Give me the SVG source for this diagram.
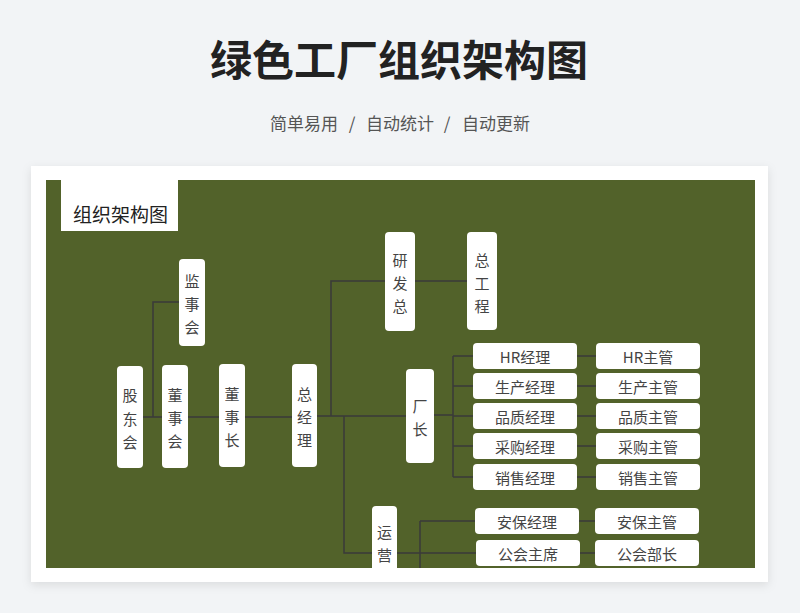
<svg xmlns="http://www.w3.org/2000/svg" width="800" height="613" viewBox="0 0 800 613">
<defs>
<style>
.title{font-family:"Noto Sans CJK SC","Noto Sans",sans-serif;font-weight:bold;font-size:42px;fill:#222;text-anchor:middle}
.sub{font-family:"Noto Sans CJK SC","Noto Sans",sans-serif;font-size:17px;fill:#555;text-anchor:middle}
.box{fill:#fff;rx:4;ry:4}
.t{font-family:"Noto Sans CJK SC","Noto Sans",sans-serif;font-size:15px;fill:#444;text-anchor:middle;dominant-baseline:central}
.lbl{font-family:"Noto Sans CJK SC","Noto Sans",sans-serif;font-size:19px;fill:#222;dominant-baseline:central}
.ln{stroke:#3a3a3a;stroke-width:1.5;fill:none}
</style>
<filter id="sh" x="-5%" y="-5%" width="110%" height="115%">
<feDropShadow dx="0" dy="3" stdDeviation="5" flood-color="#000" flood-opacity="0.10"/>
</filter>
<clipPath id="cp"><rect x="46" y="180" width="709" height="388"/></clipPath>
</defs>
<rect width="800" height="613" fill="#f2f4f6"/>
<text class="title" x="399" y="76">绿色工厂组织架构图</text>
<text class="sub" x="304" y="130">简单易用</text>
<text class="sub" x="352" y="130">/</text>
<text class="sub" x="400" y="130">自动统计</text>
<text class="sub" x="447" y="130">/</text>
<text class="sub" x="496" y="130">自动更新</text>
<rect x="31" y="166" width="737" height="416" fill="#fff" filter="url(#sh)"/>
<rect x="46" y="180" width="709" height="388" fill="#52622a"/>
<g id="label">
<rect x="61" y="180" width="117" height="51" fill="#fff"/>
<text class="lbl" x="73" y="213">组织架构图</text>
</g>
<g clip-path="url(#cp)">
<g id="connectors">
<path class="ln" d="M143 417H162M153 417V302H179M188 417H219M245 417H292M317 416H406M331 416V281H385M344 416V553H372M415 281H467"/>
<path class="ln" d="M434 415H453M453 356V477M453 356H473M453 386H473M453 416H473M453 446H473M453 477H473"/>
<path class="ln" d="M577 356H596M577 386H596M577 416H596M577 446H596M577 477H596"/>
<path class="ln" d="M397 553H476M420 521V570M420 521H475M579 521H595M580 553H595"/>
</g>
<g id="n-jianshihui"><rect class="box" x="179" y="259" width="26" height="87"/><text class="t" x="192" y="280">监</text><text class="t" x="192" y="303">事</text><text class="t" x="192" y="326">会</text></g>
<g id="n-gudonghui"><rect class="box" x="117" y="366" width="26" height="102"/><text class="t" x="130" y="394">股</text><text class="t" x="130" y="418">东</text><text class="t" x="130" y="441">会</text></g>
<g id="n-dongshihui"><rect class="box" x="162" y="365" width="26" height="103"/><text class="t" x="175" y="394">董</text><text class="t" x="175" y="417">事</text><text class="t" x="175" y="440">会</text></g>
<g id="n-dongshizhang"><rect class="box" x="219" y="364" width="26" height="103"/><text class="t" x="232" y="393">董</text><text class="t" x="232" y="416">事</text><text class="t" x="232" y="439">长</text></g>
<g id="n-zongjingli"><rect class="box" x="292" y="364" width="25" height="103"/><text class="t" x="304.5" y="393">总</text><text class="t" x="304.5" y="416">经</text><text class="t" x="304.5" y="439">理</text></g>
<g id="n-yanfazong"><rect class="box" x="385" y="232" width="30" height="99"/><text class="t" x="400" y="259">研</text><text class="t" x="400" y="282">发</text><text class="t" x="400" y="305">总</text></g>
<g id="n-zonggongcheng"><rect class="box" x="467" y="232" width="30" height="98"/><text class="t" x="482" y="259">总</text><text class="t" x="482" y="282">工</text><text class="t" x="482" y="305">程</text></g>
<g id="n-changzhang"><rect class="box" x="406" y="369" width="28" height="94"/><text class="t" x="420" y="405">厂</text><text class="t" x="420" y="428">长</text></g>
<g id="n-yunying"><rect class="box" x="372" y="506" width="25" height="80"/><text class="t" x="384.5" y="531">运</text><text class="t" x="384.5" y="554">营</text></g>
<g id="n-hrjl"><rect class="box" x="473" y="343" width="104" height="26"/><text class="t" x="525" y="356">HR经理</text></g>
<g id="n-hrzg"><rect class="box" x="596" y="343" width="104" height="26"/><text class="t" x="648" y="356">HR主管</text></g>
<g id="n-scjl"><rect class="box" x="473" y="373" width="104" height="26"/><text class="t" x="525" y="386">生产经理</text></g>
<g id="n-sczg"><rect class="box" x="596" y="373" width="104" height="26"/><text class="t" x="648" y="386">生产主管</text></g>
<g id="n-pzjl"><rect class="box" x="473" y="403" width="104" height="26"/><text class="t" x="525" y="416">品质经理</text></g>
<g id="n-pzzg"><rect class="box" x="596" y="403" width="104" height="26"/><text class="t" x="648" y="416">品质主管</text></g>
<g id="n-cgjl"><rect class="box" x="473" y="433" width="104" height="26"/><text class="t" x="525" y="446">采购经理</text></g>
<g id="n-cgzg"><rect class="box" x="596" y="433" width="104" height="26"/><text class="t" x="648" y="446">采购主管</text></g>
<g id="n-xsjl"><rect class="box" x="473" y="464" width="104" height="26"/><text class="t" x="525" y="477">销售经理</text></g>
<g id="n-xszg"><rect class="box" x="596" y="464" width="104" height="26"/><text class="t" x="648" y="477">销售主管</text></g>
<g id="n-abjl"><rect class="box" x="475" y="508" width="104" height="26"/><text class="t" x="527" y="521">安保经理</text></g>
<g id="n-abzg"><rect class="box" x="595" y="508" width="104" height="26"/><text class="t" x="647" y="521">安保主管</text></g>
<g id="n-ghzx"><rect class="box" x="476" y="540" width="104" height="26"/><text class="t" x="528" y="553">公会主席</text></g>
<g id="n-ghbz"><rect class="box" x="595" y="540" width="104" height="26"/><text class="t" x="647" y="553">公会部长</text></g>
</g>
</svg>
